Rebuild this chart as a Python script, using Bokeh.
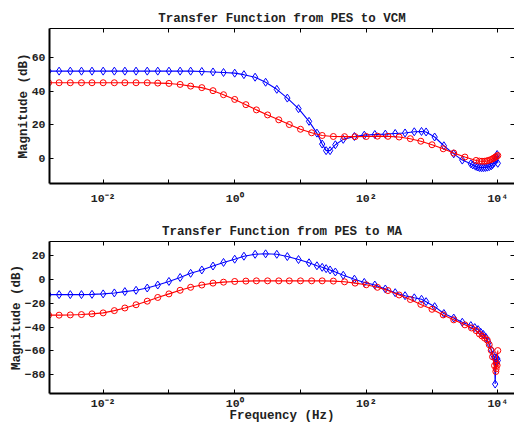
from bokeh.plotting import figure
from bokeh.models import Range1d, LogAxis, LinearAxis, FixedTicker
from bokeh.layouts import column
from bokeh.embed import file_html
from bokeh.resources import INLINE

# ---------------- data (log10 of frequency in Hz, magnitude in dB) ----------------
vcm_blue_logf = [-2.83, -2.67, -2.5, -2.33, -2.17, -2.0, -1.83, -1.67, -1.5, -1.33, -1.17, -1.0,
                 -0.83, -0.67, -0.5, -0.33, -0.17, 0.0, 0.14, 0.31, 0.47, 0.64, 0.80, 0.97, 1.13,
                 1.25, 1.33, 1.39, 1.45, 1.53, 1.65, 1.82, 1.97, 2.13, 2.29, 2.44, 2.59, 2.73, 2.84,
                 2.91, 3.04, 3.18, 3.33, 3.46, 3.59, 3.62, 3.66, 3.69, 3.72, 3.75, 3.78, 3.81, 3.84,
                 3.87, 3.90, 3.92, 3.94, 3.96, 3.98, 3.99, 4.0]
vcm_blue_mag = [51.9, 51.9, 51.9, 51.9, 51.9, 51.9, 51.9, 51.9, 51.9, 51.9, 51.9, 51.9,
                51.9, 51.9, 51.7, 51.4, 51.1, 50.7, 49.8, 48.3, 45.3, 41.1, 35.9, 29.6, 22.1,
                15.1, 8.6, 4.7, 4.7, 8.2, 11.4, 13.1, 13.9, 14.3, 14.5, 14.9, 15.2, 15.9, 16.1,
                15.8, 12.8, 7.6, 2.8, -0.9, -3.1, -3.8, -4.5, -5.0, -5.3, -5.4, -5.4, -5.3, -5.1,
                -4.8, -4.3, -3.6, -2.6, -1.2, 0.6, 2.4, -2.8]

vcm_red_logf = [-2.83, -2.67, -2.5, -2.33, -2.17, -2.0, -1.83, -1.67, -1.5, -1.33, -1.17, -1.0,
                -0.83, -0.67, -0.5, -0.33, -0.17, 0.0, 0.17, 0.33, 0.5, 0.67, 0.83, 1.0, 1.17,
                1.33, 1.5, 1.67, 1.83, 2.0, 2.17, 2.33, 2.5, 2.67, 2.83, 3.0, 3.17, 3.33, 3.5,
                3.67, 3.72, 3.76, 3.80, 3.83, 3.86, 3.89, 3.92, 3.94, 3.96, 3.98, 4.0]
vcm_red_mag = [45.0, 45.0, 45.0, 45.0, 45.0, 45.0, 45.0, 45.0, 45.0, 45.0, 44.8, 44.6,
               44.0, 43.0, 42.1, 40.3, 37.9, 35.1, 32.0, 28.9, 25.9, 23.0, 20.2, 17.4, 15.3,
               13.7, 13.1, 13.0, 13.0, 13.1, 13.3, 13.2, 12.8, 11.8, 10.3, 8.2, 5.8, 3.3, 0.9,
               -1.1, -1.5, -1.6, -1.6, -1.4, -1.1, -0.7, -0.2, 0.3, 0.8, 1.3, 1.8]

ma_blue_logf = [-2.83, -2.67, -2.5, -2.33, -2.17, -2.0, -1.83, -1.67, -1.5, -1.33, -1.17, -1.0,
                -0.83, -0.67, -0.5, -0.33, -0.17, 0.0, 0.14, 0.31, 0.47, 0.64, 0.80, 0.97, 1.13,
                1.25, 1.33, 1.39, 1.45, 1.53, 1.65, 1.82, 1.97, 2.13, 2.29, 2.44, 2.59, 2.73, 2.84,
                2.91, 3.04, 3.18, 3.33, 3.46, 3.59, 3.65, 3.70, 3.74, 3.78, 3.82, 3.86, 3.90,
                3.93, 3.95, 3.96, 3.97, 3.98, 3.99, 4.0]
ma_blue_mag = [-12.9, -12.9, -12.9, -12.9, -12.7, -12.3, -11.5, -10.4, -9.3, -7.4, -4.9, -1.9,
               1.4, 4.9, 7.7, 11.0, 14.0, 16.7, 19.2, 20.8, 21.2, 20.8, 18.9, 16.4, 13.7,
               11.2, 9.9, 8.8, 7.7, 6.0, 3.3, 0.0, -2.7, -4.9, -8.2, -11.3, -13.8, -15.6, -16.8,
               -18.8, -23.0, -28.7, -32.5, -36.0, -38.8, -40.5, -42.2, -44.4, -46.2, -48.8, -53.0, -59.0,
               -63.5, -66.0, -87.7, -70.0, -66.0, -66.5, -68.0]

ma_red_logf = [-2.83, -2.67, -2.5, -2.33, -2.17, -2.0, -1.83, -1.67, -1.5, -1.33, -1.17, -1.0,
               -0.83, -0.67, -0.5, -0.33, -0.17, 0.0, 0.17, 0.33, 0.5, 0.67, 0.83, 1.0, 1.17,
               1.33, 1.5, 1.67, 1.83, 2.0, 2.17, 2.33, 2.5, 2.67, 2.83, 3.0, 3.17, 3.33, 3.5,
               3.6, 3.67, 3.72, 3.76, 3.80, 3.84, 3.87, 3.90, 3.92, 3.95, 3.97, 3.975, 3.98, 3.99, 4.0]
ma_red_mag = [-30.1, -30.1, -29.9, -29.6, -29.0, -28.2, -26.3, -24.1, -21.4, -18.4, -15.3, -12.3,
              -9.3, -6.8, -4.9, -3.3, -2.5, -1.9, -1.6, -1.4, -1.4, -1.4, -1.4, -1.4, -1.4,
              -1.4, -1.6, -2.2, -3.3, -4.7, -6.8, -9.5, -13.2, -17.0, -21.1, -25.2, -29.9, -34.0, -38.2,
              -40.8, -43.0, -45.8, -47.5, -49.3, -51.0, -54.8, -59.5, -64.9, -72.3, -77.2, -75.0, -70.4, -72.0, -59.7]

x_tick_values = [0.01, 0.1, 1, 10, 100, 1000, 10000]
x_tick_labels = ["10\u207b\u00b2", " ", "10\u2070", " ", "10\u00b2", " ", "10\u2074"]
vcm_y_ticks = [0, 20, 40, 60]
ma_y_ticks = [-80, -60, -40, -20, 0, 20]

titles = ["Transfer Function from PES to VCM", "Transfer Function from PES to MA"]
y_label = "Magnitude (dB)"
x_label = "Frequency (Hz)"

FONT = "Liberation Mono"
X_RANGE = (10 ** -2.816, 10 ** 4.254)


def style_axis(ax, ticks, labels=True, width=2):
    ax.ticker = FixedTicker(ticks=ticks, minor_ticks=[])
    ax.major_tick_in = 4
    ax.major_tick_out = 0
    ax.minor_tick_in = 0
    ax.minor_tick_out = 0
    ax.axis_line_width = width
    ax.axis_line_color = "black"
    ax.major_tick_line_color = "black"
    if labels:
        ax.major_label_text_font = FONT
        ax.major_label_text_font_style = "bold"
        ax.major_label_text_font_size = "11.5px"
        ax.major_label_text_color = "#222222"
    else:
        ax.major_label_text_font_size = "1px"
        ax.major_label_text_alpha = 0
        ax.major_label_standoff = 0


def make(title, yr, yticks, bf, bm, rf, rm, height, top, bottom, xlab=None):
    p = figure(width=514, height=height, x_axis_type="log",
               x_range=Range1d(*X_RANGE), y_range=Range1d(*yr),
               output_backend="svg", toolbar_location=None,
               min_border_left=49, min_border_right=0,
               min_border_top=top, min_border_bottom=bottom)
    p.outline_line_color = None
    p.grid.visible = False
    p.background_fill_color = "white"
    p.border_fill_color = "white"

    p.title.text = title
    p.title.text_font = FONT
    p.title.text_font_style = "bold"
    p.title.text_font_size = "12.5px"
    p.title.align = "center"
    p.title.standoff = 6
    p.title.text_color = "#222222"

    xa = p.below[0]
    style_axis(xa, x_tick_values)
    xa.major_label_overrides = dict(zip(x_tick_values, x_tick_labels))
    xa.major_label_standoff = 8
    if xlab:
        xa.major_label_standoff = 3
        xa.axis_label = xlab
        xa.axis_label_text_font = FONT
        xa.axis_label_text_font_style = "bold"
        xa.axis_label_text_font_size = "12.5px"
        xa.axis_label_standoff = -4
        xa.axis_label_text_color = "#222222"

    ya = p.left[0]
    style_axis(ya, yticks)
    ya.major_label_standoff = 4
    ya.axis_label = y_label
    ya.axis_label_text_font = FONT
    ya.axis_label_text_font_style = "bold"
    ya.axis_label_text_font_size = "12.5px"
    ya.axis_label_standoff = -2
    ya.axis_label_text_color = "#222222"

    ta = LogAxis()
    style_axis(ta, x_tick_values, labels=False, width=1)
    p.add_layout(ta, "above")
    ra = LinearAxis()
    style_axis(ra, yticks, labels=False, width=1)
    ra.axis_line_color = None
    p.add_layout(ra, "right")

    bx = [10 ** v for v in bf]
    rx = [10 ** v for v in rf]
    p.line(bx, bm, line_color="#0000ff", line_width=1.1)
    p.scatter(bx, bm, marker="diamond", size=8, fill_color=None,
              line_color="#0000ff", line_width=1)
    p.line(rx, rm, line_color="#ff0000", line_width=1.1)
    p.scatter(rx, rm, marker="circle", size=6, fill_color=None,
              line_color="#ff0000", line_width=1)
    return p


p1 = make(titles[0], (-14.8, 77.2), vcm_y_ticks, vcm_blue_logf, vcm_blue_mag,
          vcm_red_logf, vcm_red_mag, height=213, top=28, bottom=30)
p2 = make(titles[1], (-95.6, 31.5), ma_y_ticks, ma_blue_logf, ma_blue_mag,
          ma_red_logf, ma_red_mag, height=212, top=28, bottom=29, xlab=x_label)

layout = column(p1, p2, spacing=0)
open("out.html", "w").write(file_html(layout, INLINE))
